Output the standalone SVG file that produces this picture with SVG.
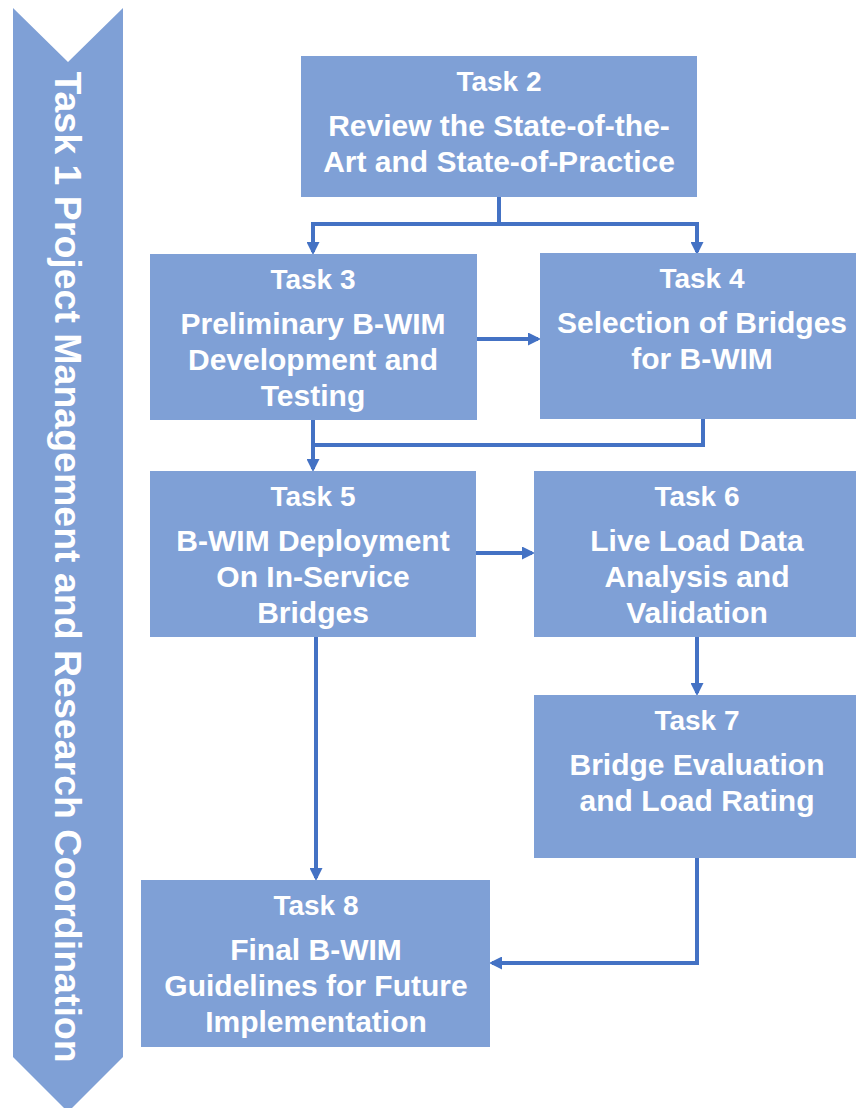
<svg xmlns="http://www.w3.org/2000/svg" width="856" height="1108" viewBox="0 0 856 1108">
<style>
.box{fill:#7FA0D6}
.t{font-family:"Liberation Sans",Arial,sans-serif;font-weight:bold;fill:#FFFFFF;text-anchor:middle}
.h{font-size:28px}
.b{font-size:30px}
.c{fill:none;stroke:#4472C4;stroke-width:4}
</style>
<defs>
<marker id="ah" markerWidth="13" markerHeight="13" refX="10" refY="6.5" orient="auto" markerUnits="userSpaceOnUse">
<path d="M0,0 L13,6.5 L0,13 Z" fill="#4472C4"/>
</marker>
</defs>
<rect width="856" height="1108" fill="#FFFFFF"/>
<g id="task1">
<polygon class="box" points="13,8 68,62 123,8 123,1057 68,1112 13,1057"/>
<text class="t" font-size="37.5" transform="translate(55,567) rotate(90)">Task 1 Project Management and Research Coordination</text>
</g>
<g id="connectors">
<path class="c" d="M499,197 V224 H313 V252" marker-end="url(#ah)"/>
<path class="c" d="M499,224 H697 V252" marker-end="url(#ah)"/>
<path class="c" d="M477,339 H538" marker-end="url(#ah)"/>
<path class="c" d="M313,420 V469" marker-end="url(#ah)"/>
<path class="c" d="M703,419 V445 H313"/>
<path class="c" d="M476,553 H532" marker-end="url(#ah)"/>
<path class="c" d="M697,637 V693" marker-end="url(#ah)"/>
<path class="c" d="M316,637 V878" marker-end="url(#ah)"/>
<path class="c" d="M697,858 V963 H492" marker-end="url(#ah)"/>
</g>
<g id="task2">
<rect class="box" x="301" y="56" width="396" height="141"/>
<text class="t h" x="499" y="91">Task 2</text>
<text class="t b" x="499" y="136">Review the State-of-the-</text>
<text class="t b" x="499" y="172">Art and State-of-Practice</text>
</g>
<g id="task3">
<rect class="box" x="150" y="254" width="327" height="166"/>
<text class="t h" x="313" y="289">Task 3</text>
<text class="t b" x="313" y="334">Preliminary B-WIM</text>
<text class="t b" x="313" y="370">Development and</text>
<text class="t b" x="313" y="406">Testing</text>
</g>
<g id="task4">
<rect class="box" x="540" y="253" width="316" height="166"/>
<text class="t h" x="702" y="288">Task 4</text>
<text class="t b" x="702" y="333">Selection of Bridges</text>
<text class="t b" x="702" y="369">for B-WIM</text>
</g>
<g id="task5">
<rect class="box" x="150" y="471" width="326" height="166"/>
<text class="t h" x="313" y="506">Task 5</text>
<text class="t b" x="313" y="551">B-WIM Deployment</text>
<text class="t b" x="313" y="587">On In-Service</text>
<text class="t b" x="313" y="623">Bridges</text>
</g>
<g id="task6">
<rect class="box" x="534" y="471" width="322" height="166"/>
<text class="t h" x="697" y="506">Task 6</text>
<text class="t b" x="697" y="551">Live Load Data</text>
<text class="t b" x="697" y="587">Analysis and</text>
<text class="t b" x="697" y="623">Validation</text>
</g>
<g id="task7">
<rect class="box" x="534" y="695" width="322" height="163"/>
<text class="t h" x="697" y="730">Task 7</text>
<text class="t b" x="697" y="775">Bridge Evaluation</text>
<text class="t b" x="697" y="811">and Load Rating</text>
</g>
<g id="task8">
<rect class="box" x="141" y="880" width="349" height="167"/>
<text class="t h" x="316" y="915">Task 8</text>
<text class="t b" x="316" y="960">Final B-WIM</text>
<text class="t b" x="316" y="996">Guidelines for Future</text>
<text class="t b" x="316" y="1032">Implementation</text>
</g>
</svg>
